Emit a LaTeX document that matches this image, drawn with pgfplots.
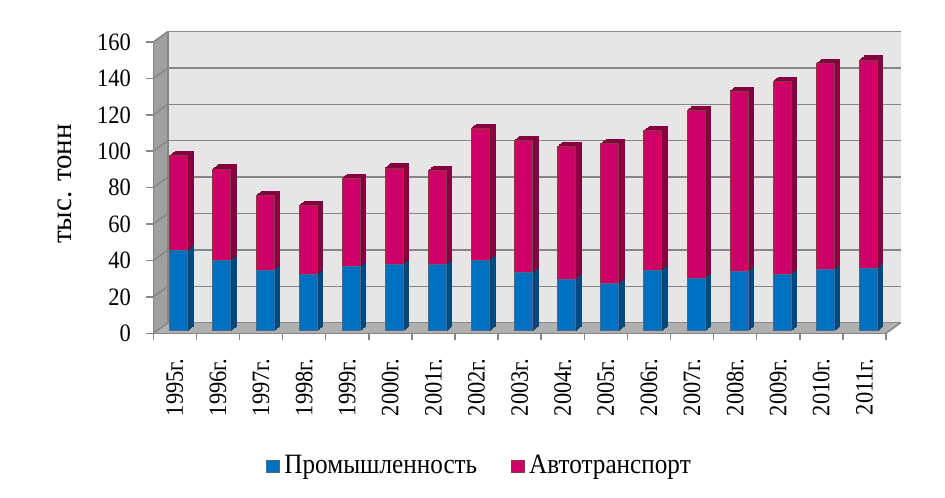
\documentclass[border=0pt]{standalone}
\usepackage{fontspec}
\setmainfont{Liberation Serif}
\newfontfamily\tickfont{Liberation Serif}[FakeStretch=0.9]
\usepackage{pgfplots}
\pgfplotsset{compat=1.18}
\usepackage{pgfplotstable}
\newlength\px \setlength\px{0.5pt}
\definecolor{wallc}{HTML}{E6E6E6}
\definecolor{floorc}{HTML}{B0B0B0}
\definecolor{leftc}{HTML}{A0A0A0}
\definecolor{gridc}{HTML}{868686}
\definecolor{bluef}{HTML}{0070C0}
\definecolor{blues}{HTML}{004A80}
\definecolor{magf}{HTML}{CC0066}
\definecolor{mags}{HTML}{850040}
\definecolor{magedge}{HTML}{8B3A3A}
\definecolor{blueedge}{HTML}{4A6A8A}

\pgfplotstableread{
x ind auto
0 44.0 52.0
1 38.4 50.2
2 33.0 41.0
3 30.6 37.9
4 35.0 48.5
5 36.1 53.1
6 36.1 51.8
7 38.6 72.5
8 31.7 72.6
9 28.0 73.1
10 25.6 76.9
11 33.0 76.7
12 28.7 92.1
13 32.2 99.2
14 30.9 105.9
15 33.5 113.1
16 34.2 114.3
}\data

\pgfplotsset{
  common/.style={scale only axis, width=732.7\px, height=291.3\px,
    xmin=-0.5, xmax=16.5, ymin=0, ymax=160, anchor=south west, clip=false},
  barlayer/.style={common, hide axis, ybar stacked, bar width=18\px},
}
\newcommand\darklayer[2]{%
\begin{axis}[barlayer, at={(#1\px,#2\px)}]
\addplot[fill=blues, draw=blues, line width=0.5pt] table[x=x,y=ind]{\data};
\addplot[fill=mags, draw=mags, line width=0.5pt] table[x=x,y=auto]{\data};
\end{axis}}

\begin{document}
\begin{tikzpicture}[font=\fontsize{12.5}{15}\selectfont]
\useasboundingbox (-153.3\px,-163.7\px) rectangle (791.7\px,333.3\px);
% back wall, floor, left wall
\begin{axis}[common, at={(14.5\px,10.5\px)}, axis line style={draw=none},
  xtick=\empty, ytick={0,20,...,160}, yticklabels={}, major tick length=0pt,
  ymajorgrids, major grid style={draw=gridc, line width=0.75pt},
  axis background/.style={fill=wallc}]
\fill[floorc] (rel axis cs:0,0) -- (rel axis cs:1,0) -- ([shift={(-14.5\px,-10.5\px)}]rel axis cs:1,0) -- ([shift={(-14.5\px,-10.5\px)}]rel axis cs:0,0) -- cycle;
\draw[gridc, line width=0.75pt] (rel axis cs:1,0) -- ([shift={(-14.5\px,-10.5\px)}]rel axis cs:1,0);
\fill[leftc] (rel axis cs:0,0) -- (rel axis cs:0,1) -- ([shift={(-14.5\px,-10.5\px)}]rel axis cs:0,1) -- ([shift={(-14.5\px,-10.5\px)}]rel axis cs:0,0) -- cycle;
\pgfplotsinvokeforeach{0,20,40,60,80,100,120,140,160}{
  \draw[gridc, line width=0.75pt] (axis cs:-0.5,#1) -- ([shift={(-14.5\px,-10.5\px)}]axis cs:-0.5,#1);
}
\draw[gridc, line width=0.75pt] (rel axis cs:0,0) -- (rel axis cs:0,1);
\end{axis}
% bar depth
\darklayer{9.5}{7.0}
\darklayer{8.8}{6.45}
\darklayer{8.1}{5.9}
\darklayer{7.4}{5.35}
\darklayer{6.7}{4.8}
\darklayer{6.0}{4.25}
\darklayer{5.3}{3.7}
\darklayer{4.6}{3.15}
% bar front faces
\begin{axis}[barlayer, at={(4\px,2.7\px)}]
\addplot[fill=bluef, draw=blueedge, line width=0.5pt] table[x=x,y=ind]{\data};
\addplot[fill=magf, draw=magedge, line width=0.5pt] table[x=x,y=auto]{\data};
\end{axis}
% front axis with ticks, labels, legend
\begin{axis}[common, at={(0,0)}, axis lines*=left,
  axis line style={draw=gridc, line width=0.75pt},
  tick align=outside, major tick length=7\px,
  tick style={draw=gridc, line width=0.75pt},
  xtick={-0.5,0.5,...,16.5}, xticklabels={},
  extra x ticks={0,1,...,16},
  extra x tick labels={1995г.,1996г.,1997г.,1998г.,1999г.,2000г.,2001г.,2002г.,2003г.,2004г.,2005г.,2006г.,2007г.,2008г.,2009г.,2010г.,2011г.},
  extra x tick style={tick style={draw=none}},
  xticklabel style={rotate=90, anchor=east, inner sep=0pt, font=\tickfont\fontsize{12.5}{15}\selectfont},
  xticklabel shift=18\px,
  ytick={0,20,...,160},
  yticklabel style={anchor=east, inner sep=0pt, font=\tickfont\fontsize{12.5}{15}\selectfont},
  yticklabel shift=15\px,
  /pgf/number format/assume math mode=true,
  ylabel={тыс. тонн},
  ylabel style={at={(axis description cs:-0.1205,0.5125)}, anchor=center, font=\fontsize{14.5}{17}\selectfont},
  legend style={at={(axis description cs:0.1538,-0.4556)}, anchor=west, draw=none, fill=none,
    inner sep=0pt, legend columns=-1, font=\tickfont\fontsize{14}{16}\selectfont,
    /tikz/every even column/.append style={column sep=30\px}},
  ]
\addlegendimage{legend image code/.code={\draw[fill=bluef, draw=blueedge, line width=0.5pt] (0pt,-6\px) rectangle (13\px,6\px);}}
\addlegendentry{Промышленность}
\addlegendimage{legend image code/.code={\draw[fill=magf, draw=magedge, line width=0.5pt] (0pt,-6\px) rectangle (13\px,6\px);}}
\addlegendentry{Автотранспорт}
\end{axis}
\end{tikzpicture}
\end{document}
